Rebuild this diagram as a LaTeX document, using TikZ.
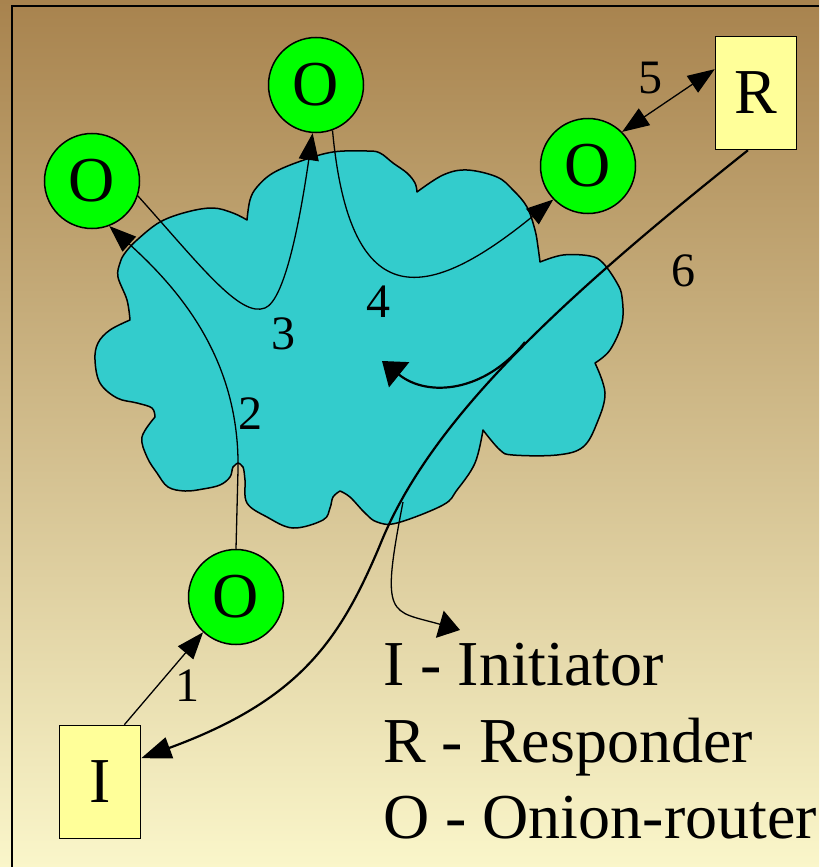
\documentclass[tikz,border=0pt]{standalone}
\usepackage{fontspec}
\setmainfont{Liberation Serif}
\usetikzlibrary{arrows.meta,positioning}

\definecolor{bgtop}{RGB}{168,131,78}
\definecolor{bgbottom}{RGB}{250,246,202}
\definecolor{netcyan}{RGB}{51,204,204}
\definecolor{onion}{RGB}{0,255,0}
\definecolor{boxyellow}{RGB}{255,255,153}

\newcommand{\bigfont}{\fontsize{64}{77}\selectfont}
\newcommand{\numfont}{\fontsize{48}{58}\selectfont}

\begin{document}
\begin{tikzpicture}[x=1pt,y=-1pt,>={Triangle[length=27pt,width=20pt]},
    thin line/.style={line width=1.3pt},
    thick line/.style={line width=2.2pt},
    onion node/.style={circle,draw,fill=onion,line width=1.5pt,
    minimum size=95pt,inner sep=0pt,font=\bigfont},
    end node/.style={rectangle,draw,fill=boxyellow,line width=1.5pt,
    minimum width=81pt,minimum height=113pt,inner sep=0pt,font=\bigfont},
    step label/.style={inner sep=0pt,font=\numfont},
    legend/.style={anchor=base west,inner sep=0pt,font=\bigfont}]

    \useasboundingbox (0,0) rectangle (819,867);
    \shade [top color=bgtop,bottom color=bgbottom] (0,0) rectangle (819,867);
    \draw [line width=1.3pt] (12,867) -- (12,6) -- (819,6);

    % the network
    \filldraw [fill=netcyan,line width=1.5pt,line join=round]
      plot [smooth,tension=.6] coordinates {(247,220) (250,200) (257,187) (273,173) (301,161) (333,152) (367,151) (380,153) (393,163) (407,173) (415,183) (417,192)}
      -- plot [smooth,tension=.6] coordinates {(417,192) (443,175) (467,170) (497,177) (513,190) (527,207) (535,230) (538,247) (540,262)}
      -- plot [smooth,tension=.6] coordinates {(540,262) (563,255) (590,256) (603,263) (617,283) (622,297) (622,323) (610,350) (595,363)}
      -- plot [smooth,tension=.6] coordinates {(595,363) (605,393) (597,423) (583,447) (557,455) (513,455) (500,450) (483,430)}
      -- plot [smooth,tension=.6] coordinates {(483,430) (475,463) (457,490) (443,505) (397,523) (377,522) (365,513) (350,497) (340,491)}
      -- plot [smooth,tension=.6] coordinates {(340,491) (333,497) (330,508) (323,520) (293,528) (267,517) (247,503) (245,480) (243,467) (238,463)}
      -- plot [smooth,tension=.6] coordinates {(238,463) (233,467) (230,477) (220,485) (203,489) (185,491) (168,487) (157,473) (147,457) (142,437) (155,417)}
      -- plot [smooth,tension=.6] coordinates {(155,417) (152,408) (137,403) (117,398) (100,383) (95,360) (98,343) (110,330) (130,320)}
      -- plot [smooth,tension=.6] coordinates {(130,320) (127,300) (118,277) (120,263) (125,253) (137,240) (160,222) (187,212) (213,208) (233,213) (247,220)}
      -- cycle;

    \node[onion node] (OnionLeft) at (92,181) {O};
    \node[onion node] (OnionTop) at (316,85) {O};
    \node[onion node] (OnionRight) at (588,166) {O};
    \node[onion node] (OnionEntry) at (236,597) {O};
    \node[end node] (Responder) at (756,93) {R};
    \node[end node] (Initiator) at (100,782) {I};

    \node[step label] (StepOne) at (187,686) {1};
    \node[step label] (StepTwo) at (250,414) {2};
    \node[step label] (StepThree) at (283,334) {3};
    \node[step label] (StepFour) at (378,302) {4};
    \node[step label] (StepFive) at (650,78) {5};
    \node[step label] (StepSix) at (683,271) {6};

    \node[legend] (LegendI) at (383,685) {I - Initiator};
    \node[legend] (LegendR) at (383,762) {R - Responder};
    \node[legend] (LegendO) at (383,838) {O - Onion-router};

    \coordinate (ReplyStart) at (525,342);
    \coordinate (ReplyEnd) at (382,361);
    \coordinate (KeyStart) at (403,502);
    \coordinate (KeyEnd) at (460,630);

    \draw [->,thin line] (Initiator.67) -- (OnionEntry.-133);
    \draw [->,thin line] (OnionEntry.north) -- (238,470) .. controls (240,360) and (180,290) .. (OnionLeft.-69);
    \draw [->,thin line] (OnionLeft.-18) .. controls (200,265) and (240,318) .. (265,308)
        .. controls (285,300) and (300,220) .. (OnionTop.-94);
    \draw [->,thin line] (OnionTop.-70) .. controls (350,320) and (430,300) .. (OnionRight.-136);
    \draw [<->,thin line] (OnionRight.45) -- (Responder.150);

    \draw [thick line,-{Triangle[length=30pt,width=22pt]}] (Responder.-98) .. controls (560,300) and (430,420) .. (380,545)
        .. controls (340,640) and (300,700) .. (Initiator.30);
    \draw [thick line,-{Triangle[length=22pt,width=32pt]}] (ReplyStart) .. controls (485,392) and (428,398) .. (ReplyEnd);
    \draw [thin line,-{Triangle[length=21pt,width=28pt]}] (KeyStart) .. controls (380,620) and (390,610) .. (KeyEnd);
\end{tikzpicture}
\end{document}
